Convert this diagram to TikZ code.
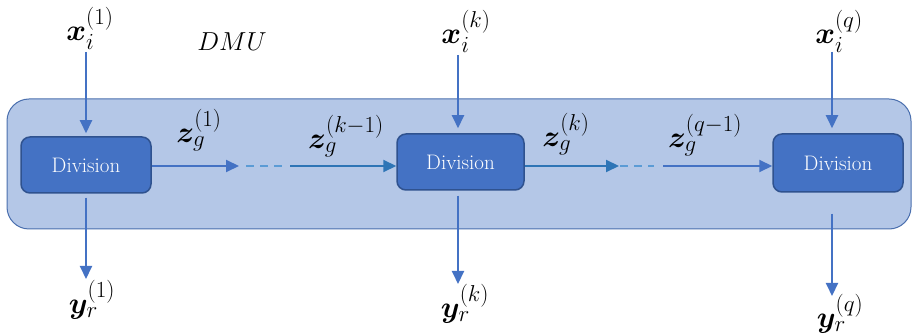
\RequirePackage{fix-cm}
\documentclass[tikz,border=0pt]{standalone}
\usepackage{amsmath}
\usepackage{bm}
\usepackage{fontspec}
\DeclareMathSizes{30}{30}{23}{17}
\DeclareMathSizes{26}{26}{19}{14}
\usetikzlibrary{arrows.meta}
\definecolor{panelfill}{HTML}{B4C7E7}
\definecolor{paneldraw}{HTML}{4A6FAE}
\definecolor{boxfill}{HTML}{4472C4}
\definecolor{boxdraw}{HTML}{2F528F}
\definecolor{arrowc}{HTML}{4472C4}
\definecolor{arrowd}{HTML}{2E75B6}
\definecolor{dashc}{HTML}{5B9BD5}
\tikzset{
  divbox/.style={draw=boxdraw, line width=1.5pt, fill=boxfill, rounded corners=9pt,
    minimum width=130pt, minimum height=56pt, text=white, inner sep=0pt,
    font=\fontsize{21}{25}\selectfont},
  flow/.style={draw=arrowc, line width=2pt, -{Triangle[length=13pt,width=12pt]}},
  flowb/.style={draw=arrowd, line width=2pt, -{Triangle[length=13pt,width=12pt]}},
  dashline/.style={draw=dashc, line width=2pt, dash pattern=on 8pt off 6pt},
  lbl/.style={inner sep=0pt, font=\fontsize{30}{36}\selectfont},
  dmulbl/.style={inner sep=0pt, font=\fontsize{26}{31}\selectfont}
}
\begin{document}
\begin{tikzpicture}[x=1pt,y=-1pt]
\useasboundingbox (0,0) rectangle (912,336);
% panel
\node[draw=paneldraw, line width=1pt, fill=panelfill, rounded corners=22pt,
  minimum width=904pt, minimum height=130pt, inner sep=0pt] (panel) at (459,164) {};
% boxes
\node[divbox] (b1) at (86,165) {Division};
\node[divbox, minimum width=127pt] (b2) at (460.5,162) {Division};
\node[divbox, minimum height=58pt] (b3) at (838,163) {Division};
% labels
\node[lbl] (x1) at (90,28) {$\bm{x}_i^{(1)}$};
\node[lbl] (xk) at (466,31) {$\bm{x}_i^{(k)}$};
\node[lbl] (xq) at (839,31) {$\bm{x}_i^{(q)}$};
\node[lbl] (y1) at (92,300) {$\bm{y}_r^{(1)}$};
\node[lbl] (yk) at (465,304) {$\bm{y}_r^{(k)}$};
\node[lbl] (yq) at (840,314) {$\bm{y}_r^{(q)}$};
\node[lbl] (z1) at (199,130) {$\bm{z}_g^{(1)}$};
\node[lbl] (zk1) at (346,136) {$\bm{z}_g^{(k-1)}$};
\node[lbl] (zk) at (566,134) {$\bm{z}_g^{(k)}$};
\node[lbl] (zq1) at (705,135) {$\bm{z}_g^{(q-1)}$};
\node[dmulbl] (dmu) at (232,42) {$DMU$};
% coordinates
\coordinate (s1) at (86,52);
\coordinate (sk) at (458,55);
\coordinate (sq) at (832,52);
\coordinate (e1) at (86,279);
\coordinate (ek) at (458,284);
\coordinate (eq) at (832,296);
\coordinate (t1) at (239,166);
\coordinate (d1a) at (246,166);
\coordinate (d1b) at (286,166);
\coordinate (r1) at (290,166);
\coordinate (t2) at (619,166);
\coordinate (d2a) at (620,166);
\coordinate (d2b) at (654,166);
\coordinate (r2) at (663,166);
% vertical arrows
\draw[flow, shorten >=3pt] (s1) -- (s1 |- b1.north);
\draw[flow, shorten >=5pt] (sk) -- (sk |- b2.north);
\draw[flow, shorten >=5pt] (sq) -- (sq |- b3.north);
\draw[flow, shorten <=4pt] (b1.south) -- (e1);
\draw[flow, shorten <=5pt] (b2.south -| ek) -- (ek);
\draw[flow, shorten <=21pt] (b3.south -| eq) -- (eq);
% horizontal flow
\draw[flow] (b1.east |- t1) -- (t1);
\draw[dashline] (d1a) -- (d1b);
\draw[flowb] (r1) -- (r1 -| b2.west);
\draw[flowb] (b2.east |- t2) -- (t2);
\draw[dashline] (d2a) -- (d2b);
\draw[flow] (r2) -- (r2 -| b3.west);
\end{tikzpicture}
\end{document}
